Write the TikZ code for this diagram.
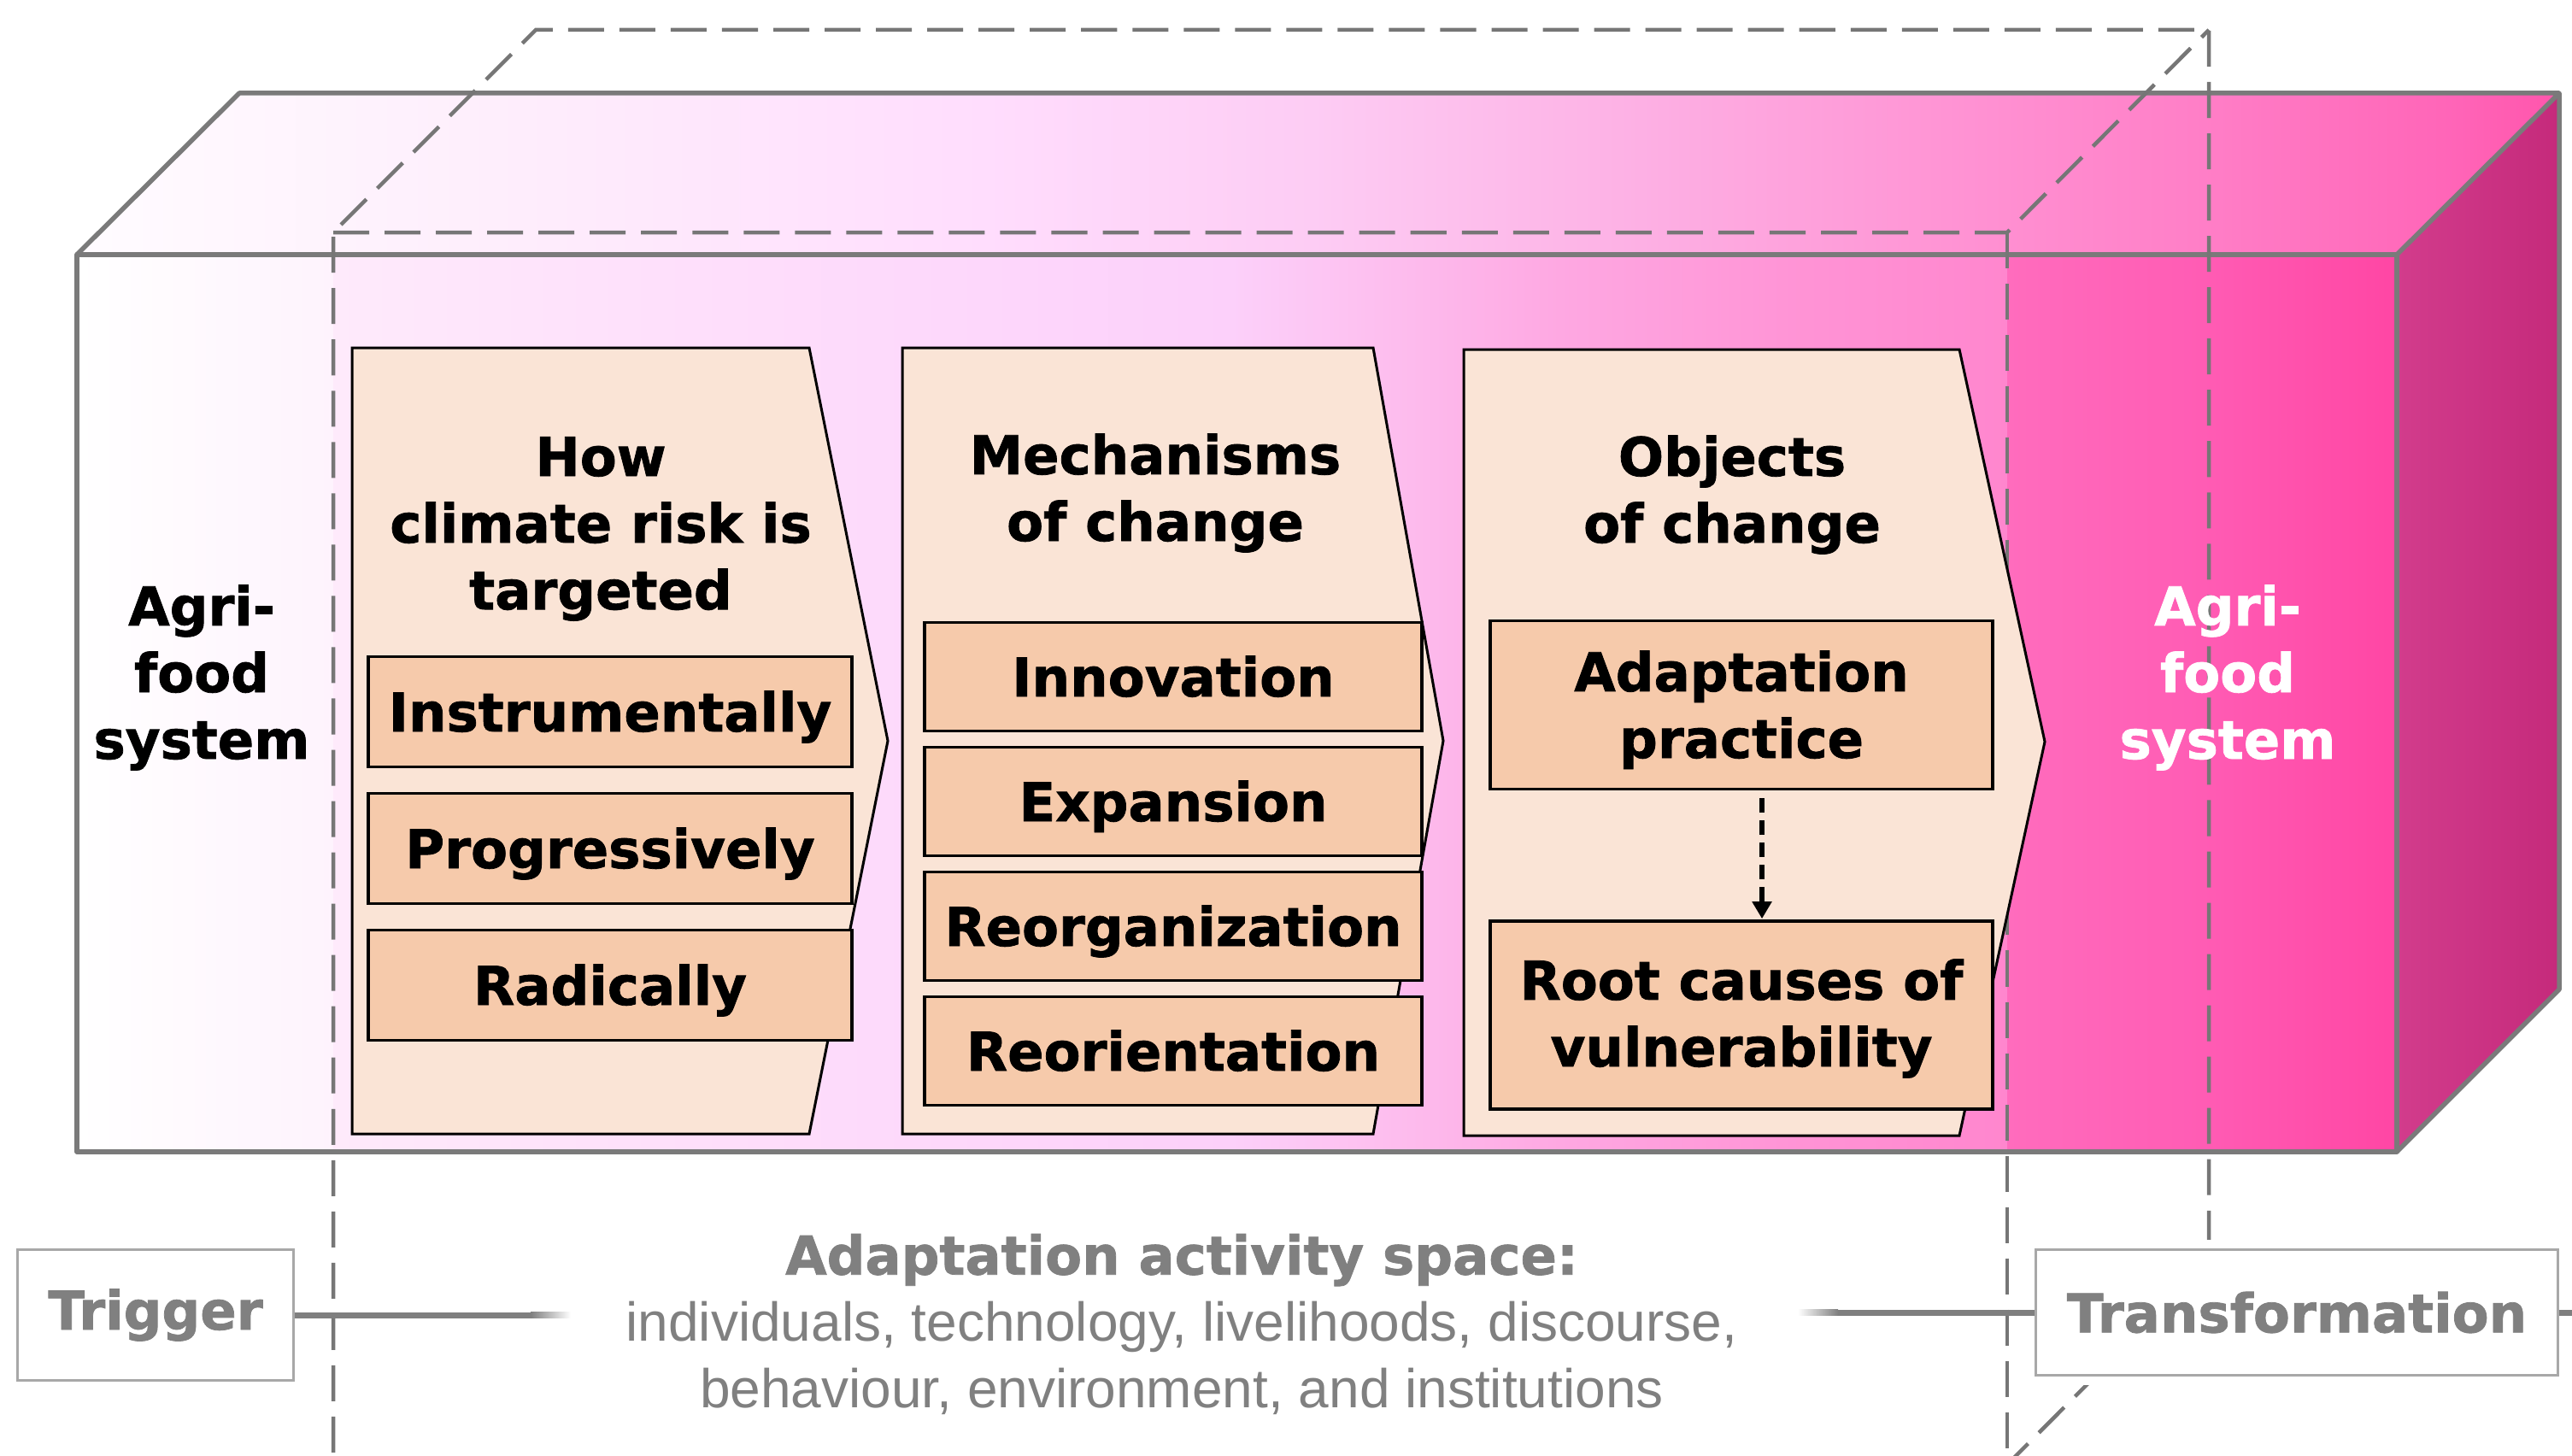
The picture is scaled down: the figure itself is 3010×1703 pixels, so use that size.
\documentclass[tikz,border=0pt]{standalone}
\usepackage{fontspec}
\setmainfont{Liberation Sans}
\newfontfamily\heavyfont{DejaVu Sans}[BoldFeatures={FakeBold=1.2}]
\usetikzlibrary{arrows.meta,calc}

% outline and text colours
\definecolor{edgegray}{HTML}{7A7A7A}
\definecolor{dashgray}{HTML}{767676}
\definecolor{chevfill}{HTML}{FAE4D6}
\definecolor{boxfill}{HTML}{F6CAAB}
\definecolor{txtgray}{HTML}{808080}
\definecolor{framegray}{HTML}{A8A8A8}
\definecolor{linkgray}{HTML}{7F7F7F}

% front face, left strip
\definecolor{fl0}{HTML}{FFFFFF}
\definecolor{fl1}{HTML}{FEF3FD}
% front face, middle part
\definecolor{fm0}{HTML}{FEEAFB}
\definecolor{fm1}{HTML}{FEE0FB}
\definecolor{fm2}{HTML}{FDD7FB}
\definecolor{fm3}{HTML}{FCD0FA}
\definecolor{fm4}{HTML}{FDBDEE}
\definecolor{fm5}{HTML}{FEA8E2}
\definecolor{fm6}{HTML}{FF93D5}
\definecolor{fm7}{HTML}{FF86CE}
% front face, right strip
\definecolor{fr0}{HTML}{FF6CBD}
\definecolor{fr1}{HTML}{FF5CB4}
\definecolor{fr2}{HTML}{FF46A4}
% top face
\definecolor{tf0}{HTML}{FFFBFF}
\definecolor{tf1}{HTML}{FEEEFC}
\definecolor{tf2}{HTML}{FFDDFD}
\definecolor{tf3}{HTML}{FDCCF4}
\definecolor{tf4}{HTML}{FDB0E4}
\definecolor{tf5}{HTML}{FF92D3}
\definecolor{tf6}{HTML}{FF7DC6}
\definecolor{tf7}{HTML}{FF64B7}
\definecolor{tf8}{HTML}{FF55AC}
% side face
\definecolor{rf0}{HTML}{D23C8C}
\definecolor{rf1}{HTML}{C52A7B}

\pgfdeclarehorizontalshading{frontmid}{100bp}{%
  color(0bp)=(fm0); color(25bp)=(fm0); color(34.65bp)=(fm1);
  color(44.45bp)=(fm2); color(51.8bp)=(fm3); color(56.7bp)=(fm4);
  color(61.6bp)=(fm5); color(68.95bp)=(fm6); color(75bp)=(fm7);
  color(100bp)=(fm7)}
\pgfdeclarehorizontalshading{frontright}{100bp}{%
  color(0bp)=(fr0); color(25bp)=(fr0); color(50bp)=(fr1);
  color(75bp)=(fr2); color(100bp)=(fr2)}
\pgfdeclarehorizontalshading{topface}{100bp}{%
  color(0bp)=(tf0); color(25.4bp)=(tf0); color(33.4bp)=(tf1);
  color(43.3bp)=(tf2); color(49.9bp)=(tf3); color(56.5bp)=(tf4);
  color(63.1bp)=(tf5); color(68.1bp)=(tf6); color(73bp)=(tf7);
  color(75bp)=(tf8); color(100bp)=(tf8)}

\tikzset{
  heavy/.style={font=\heavyfont\bfseries\fontsize{17.8pt}{22.2pt}\selectfont},
  boxedge/.style={draw=edgegray, line width=0.055cm, line join=round},
  dashedge/.style={draw=dashgray, line width=0.045cm,
    dash pattern=on 0.42cm off 0.18cm},
  chev/.style={fill=chevfill, draw=black, line width=0.03cm, line join=miter},
  inbox/.style={draw=black, fill=boxfill, line width=0.035cm, heavy,
    align=center, inner sep=0pt},
  onerow/.style={inbox, text height=0.46cm, text depth=0cm},
  title/.style={heavy, align=center, inner sep=0pt},
  gatebox/.style={draw=framegray, fill=white, line width=0.03cm, heavy,
    text=txtgray, inner sep=0pt},
  link/.style={draw=linkgray, line width=0.07cm},
  dasharrow/.style={draw=black, line width=0.055cm,
    dash pattern=on 0.17cm off 0.09cm,
    -{Triangle[length=0.2cm, width=0.22cm]}},
}

\begin{document}
\begin{tikzpicture}[x=0.01cm, y=-0.01cm]
\useasboundingbox (0,0) rectangle (3010,1703);

% ---- the agri-food system block ----
\shade[left color=fl0, right color=fl1] (90,298) rectangle (391,1348);
\shade[shading=frontmid] (390,298) rectangle (2350,1348);
\shade[shading=frontright] (2349,298) rectangle (2805,1348);
\shade[shading=topface] (90,298) -- (280,109) -- (2995,109) -- (2805,298) -- cycle;
\shade[left color=rf0, right color=rf1]
  (2805,298) -- (2995,109) -- (2995,1158) -- (2805,1348) -- cycle;
\draw[boxedge] (90,298) rectangle (2805,1348);
\draw[boxedge] (90,298) -- (280,109) -- (2995,109) -- (2805,298);
\draw[boxedge] (2995,109) -- (2995,1158) -- (2805,1348);

% ---- the adaptation activity space (dashed box) ----
\begin{scope}
  \clip (0,0) rectangle (3010,1703);
  \draw[dashedge] (390,1760) -- (390,272) -- (627,35) -- (2585,35)
    -- (2585,1477) -- (2349,1714);
  \draw[dashedge] (390,272) -- (2349,272) -- (2585,35);
  \draw[dashedge] (2349,272) -- (2349,1760);
\end{scope}

% ---- the three chevrons ----
\draw[chev] (412,407) -- (947,407) -- (1039,867) -- (947,1327) -- (412,1327) -- cycle;
\draw[chev] (1056,407) -- (1607,407) -- (1689,867) -- (1607,1327) -- (1056,1327) -- cycle;
\draw[chev] (1713,409) -- (2293,409) -- (2393,868) -- (2293,1329) -- (1713,1329) -- cycle;

\node[title] (how) at (703,619) {How\\climate risk is\\targeted};
\node[title] (mech) at (1352,577) {Mechanisms\\of change};
\node[title] (obj) at (2027,579) {Objects\\of change};

\node[onerow, minimum width=5.66cm, minimum height=1.29cm] (instr) at (714,833) {Instrumentally};
\node[onerow, minimum width=5.66cm, minimum height=1.29cm] (progr) at (714,993) {Progressively};
\node[onerow, minimum width=5.66cm, minimum height=1.29cm] (radic) at (714,1153) {Radically};

\node[onerow, minimum width=5.82cm, minimum height=1.27cm] (innov) at (1373,792) {Innovation};
\node[onerow, minimum width=5.82cm, minimum height=1.27cm] (expan) at (1373,938) {Expansion};
\node[onerow, minimum width=5.82cm, minimum height=1.27cm] (reorg) at (1373,1084) {Reorganization};
\node[onerow, minimum width=5.82cm, minimum height=1.27cm] (reori) at (1373,1230) {Reorientation};

\node[inbox, minimum width=5.88cm, minimum height=1.97cm] (adapt) at (2038,825)
  {\rule{0pt}{0.59cm}Adaptation\\practice};
\node[inbox, minimum width=5.88cm, minimum height=2.20cm] (root) at (2038,1188)
  {\rule{0pt}{0.555cm}Root causes of\\vulnerability};
\draw[dasharrow] ($(adapt.south)+(24,9)$) -- ($(root.north)+(24,-1)$);

% ---- system labels ----
\node[title] (agrileft) at (236,793) {Agri-\\food\\system};
\node[title, text=white] (agriright) at (2607,793) {Agri-\\food\\system};

% ---- trigger, transformation and the activity space ----
\node[gatebox, minimum width=3.22cm, minimum height=1.53cm] (trig) at (182,1539) {Trigger};
\node[gatebox, minimum width=6.10cm, minimum height=1.46cm,
      preaction={draw=white, line width=0.24cm}] (trans) at (2688,1536) {Transformation};

\node[align=center, text=txtgray, inner sep=0pt,
      font=\fontsize{18.2pt}{22.2pt}\selectfont] (space) at (1383,1550)
  {{\heavyfont\bfseries\fontsize{17.8pt}{22.2pt}\selectfont Adaptation activity space:}\\
   individuals, technology, livelihoods, discourse,\\
   behaviour, environment, and institutions};

\coordinate (lfade) at (622,1539);
\coordinate (rfade) at (2150,1536);
\coordinate (rstub) at (3010,1536);
\draw[link] (trig.east) -- (lfade);
\shade[left color=linkgray, right color=white] (621,1535.5) rectangle (668,1542.5);
\draw[link] (rfade) -- (trans.west);
\shade[left color=white, right color=linkgray] (2104,1532.5) rectangle (2151,1539.5);
\draw[link] (trans.east) -- (rstub);
\end{tikzpicture}
\end{document}
